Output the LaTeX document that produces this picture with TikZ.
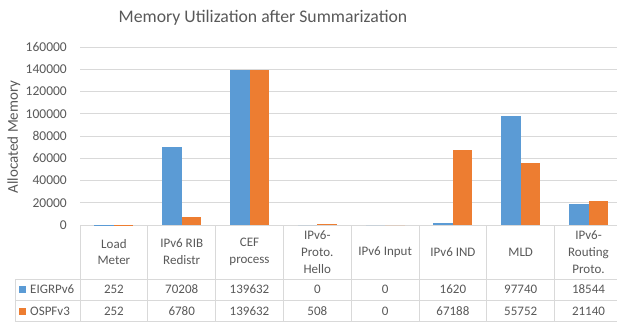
\documentclass[tikz,border=0pt]{standalone}
\usepackage{fontspec}
\setmainfont{Carlito}
\usetikzlibrary{positioning}
\definecolor{ChartBlue}{RGB}{91,155,213}
\definecolor{ChartOrange}{RGB}{237,125,49}
\definecolor{ChartGrid}{RGB}{217,217,217}
\definecolor{ChartText}{RGB}{89,89,89}

\begin{document}
\begin{tikzpicture}[x=1pt,y=-1pt,
  cell/.style={align=center, text=ChartText, inner sep=0pt, font=\fontsize{13}{16.8}\selectfont},
  ticklabel/.style={anchor=east, text=ChartText, inner sep=0pt, font=\fontsize{13.5}{15}\selectfont},
  gridline/.style={ChartGrid, line width=1pt}]
  \path[use as bounding box] (0,0) rectangle (617,322);
  \fill[white] (0,0) rectangle (617,322);
  \node[text=ChartText, font=\fontsize{17.7}{20}\selectfont] (title) at (263,18) {Memory Utilization after Summarization};
  \node[text=ChartText, rotate=90, font=\fontsize{15}{17}\selectfont] (ytitle) at (14,137) {Allocated Memory};
  % gridlines, value axis in thousands
  \foreach \k in {0,20,...,160}{
    \draw[gridline] (80,{225-\k*1.1125}) -- (617,{225-\k*1.1125});
    \node[ticklabel] (tick\k) at (67,{225-\k*1.1125}) {\ifnum\k=0 0\else\k000\fi};
  }
  % table rules
  \draw[gridline] (15,279) -- (617,279);
  \draw[gridline] (15,300.5) -- (617,300.5);
  \draw[gridline] (15,321.5) -- (617,321.5);
  \draw[gridline] (15,279) -- (15,322);
  \foreach \k in {0,...,7}{
    \draw[gridline] ({80+67.8*\k},225) -- ({80+67.8*\k},322);
  }
  % legend keys
  \fill[ChartBlue] (19,286) rectangle (26,293);
  \node[cell, anchor=west] (keyblue) at (30,289.5) {EIGRPv6};
  \fill[ChartOrange] (19,307.5) rectangle (26,314.5);
  \node[cell, anchor=west] (keyorange) at (30,311) {OSPFv3};
  % bars and table cells
  \foreach \lbl/\ve/\vo [count=\i] in {
      {Load\\Meter}/252/252,
      {IPv6 RIB\\Redistr}/70208/6780,
      {CEF\\process}/139632/139632,
      {IPv6-\\Proto.\\Hello}/0/508,
      {IPv6 Input}/0/0,
      {IPv6 IND}/1620/67188,
      {MLD}/97740/55752,
      {IPv6-\\Routing\\Proto.}/18544/21140}{
    \pgfmathsetmacro{\cx}{80+67.8*(\i-0.5)}
    \fill[ChartBlue] ({\cx-19.5},225) rectangle (\cx,{\fpeval{225-\ve*0.0011125}});
    \fill[ChartOrange] (\cx,225) rectangle ({\cx+19.5},{\fpeval{225-\vo*0.0011125}});
    \node[cell] (head\i) at (\cx,252) {\lbl};
    \node[cell] (eigrp\i) at (\cx,289.5) {\ve};
    \node[cell] (ospf\i) at (\cx,311) {\vo};
  }
\end{tikzpicture}
\end{document}
